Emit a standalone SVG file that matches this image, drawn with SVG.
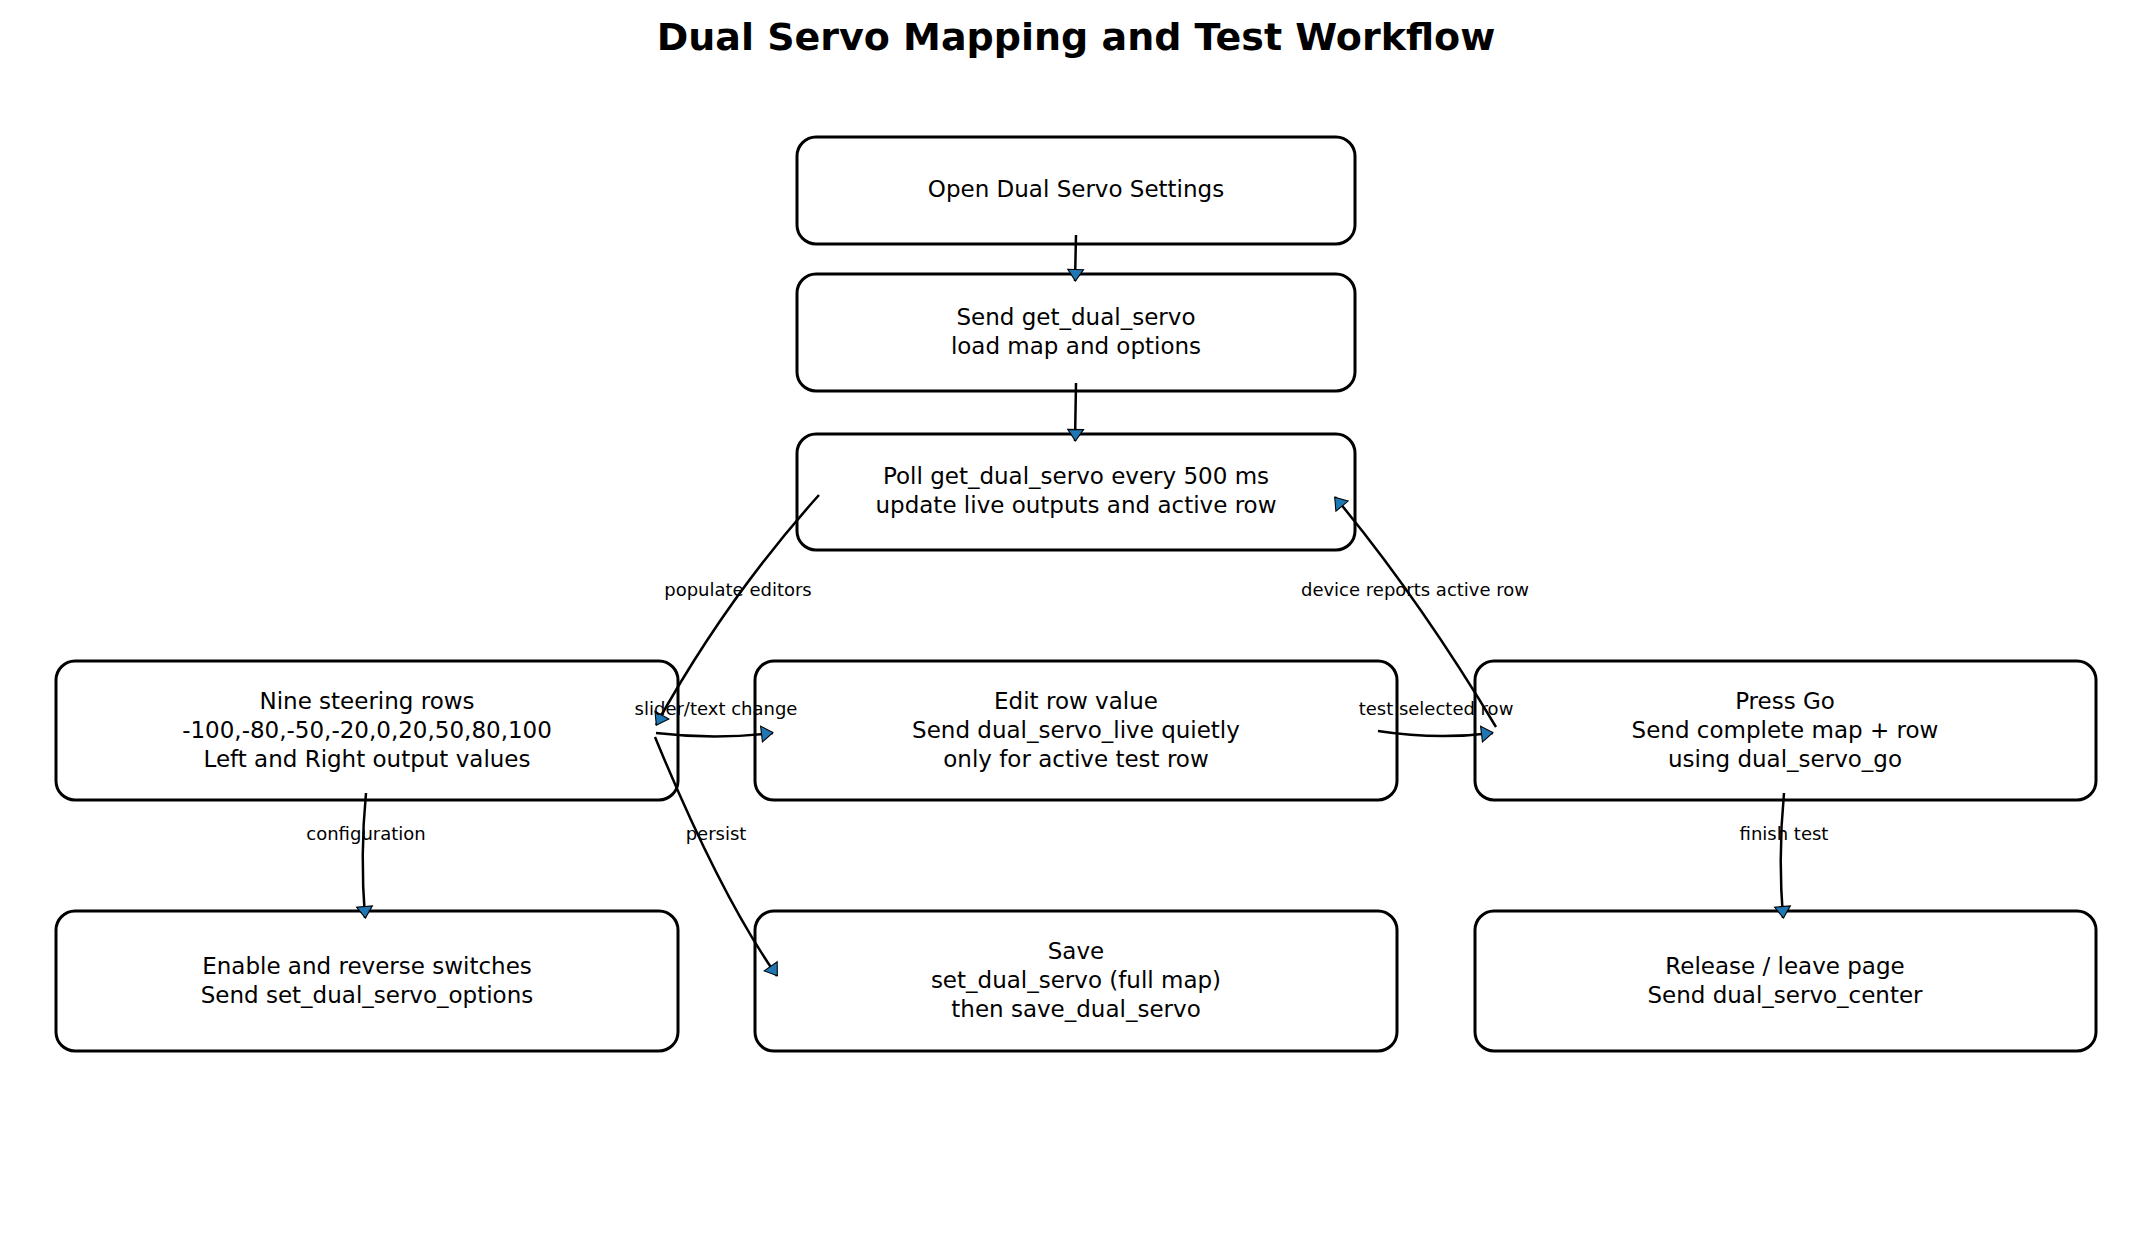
<svg xmlns="http://www.w3.org/2000/svg" width="2141" height="1244" viewBox="0 0 2141 1244">
<style>
.n rect{fill:#fff;stroke:#000;stroke-width:3}
.n text,.t{font-family:"DejaVu Sans",sans-serif;font-size:23px;text-anchor:middle;dominant-baseline:central}
.e path{fill:none;stroke:#000;stroke-width:2.5}
.l{font-family:"DejaVu Sans",sans-serif;font-size:18px;text-anchor:middle;dominant-baseline:central}
</style>
<defs><marker id="a" viewBox="0 0 10 10" refX="9" refY="5" markerWidth="8" markerHeight="8" markerUnits="userSpaceOnUse" orient="auto" overflow="visible"><path d="M-6,-6 L10,5 L-6,16 Z" transform="scale(0.9)" fill="#1f77b4" stroke="#000" stroke-width="1.5"/></marker></defs>
<rect width="2141" height="1244" fill="#fff"/>
<text x="1076" y="37" font-family="DejaVu Sans,sans-serif" font-size="38" font-weight="bold" text-anchor="middle" dominant-baseline="central">Dual Servo Mapping and Test Workflow</text>
<g id="n1" class="n"><rect x="797" y="137" width="558" height="107" rx="19"/><text x="1076" y="189">Open Dual Servo Settings</text></g>
<g id="n2" class="n"><rect x="797" y="274" width="558" height="117" rx="19"/><text x="1076" y="317">Send get_dual_servo</text><text x="1076" y="346">load map and options</text></g>
<g id="n3" class="n"><rect x="797" y="434" width="558" height="116" rx="19"/><text x="1076" y="476">Poll get_dual_servo every 500 ms</text><text x="1076" y="505">update live outputs and active row</text></g>
<g id="n4" class="n"><rect x="56" y="661" width="622" height="139" rx="19"/><text x="367" y="701">Nine steering rows</text><text x="367" y="730">-100,-80,-50,-20,0,20,50,80,100</text><text x="367" y="759">Left and Right output values</text></g>
<g id="n5" class="n"><rect x="755" y="661" width="642" height="139" rx="19"/><text x="1076" y="701">Edit row value</text><text x="1076" y="730">Send dual_servo_live quietly</text><text x="1076" y="759">only for active test row</text></g>
<g id="n6" class="n"><rect x="1475" y="661" width="621" height="139" rx="19"/><text x="1785" y="701">Press Go</text><text x="1785" y="730">Send complete map + row</text><text x="1785" y="759">using dual_servo_go</text></g>
<g id="n7" class="n"><rect x="56" y="911" width="622" height="140" rx="19"/><text x="367" y="966">Enable and reverse switches</text><text x="367" y="995">Send set_dual_servo_options</text></g>
<g id="n8" class="n"><rect x="755" y="911" width="642" height="140" rx="19"/><text x="1076" y="951">Save</text><text x="1076" y="980">set_dual_servo (full map)</text><text x="1076" y="1009">then save_dual_servo</text></g>
<g id="n9" class="n"><rect x="1475" y="911" width="621" height="140" rx="19"/><text x="1785" y="966">Release / leave page</text><text x="1785" y="995">Send dual_servo_center</text></g>
<g id="edges" class="e">
<path d="M1076,235 L1075,281" marker-end="url(#a)"/>
<path d="M1076,383 L1075,441" marker-end="url(#a)"/>
<path d="M819,495 Q725,600 656,725" marker-end="url(#a)"/>
<path d="M1496,727 Q1420,600 1335,497" marker-end="url(#a)"/>
<path d="M656,733 Q715,740 773,733" marker-end="url(#a)"/>
<path d="M1378,731 Q1436,740 1493,733" marker-end="url(#a)"/>
<path d="M655,737 Q720,895 777,976" marker-end="url(#a)"/>
<path d="M366,793 Q360,855 365,918" marker-end="url(#a)"/>
<path d="M1784,793 Q1778,855 1783,918" marker-end="url(#a)"/>
</g>
<g id="labels">
<text class="l" x="738" y="589">populate editors</text>
<text class="l" x="1415" y="589">device reports active row</text>
<text class="l" x="716" y="708">slider/text change</text>
<text class="l" x="1436" y="708">test selected row</text>
<text class="l" x="716" y="833">persist</text>
<text class="l" x="366" y="833">configuration</text>
<text class="l" x="1784" y="833">finish test</text>
</g>
</svg>
